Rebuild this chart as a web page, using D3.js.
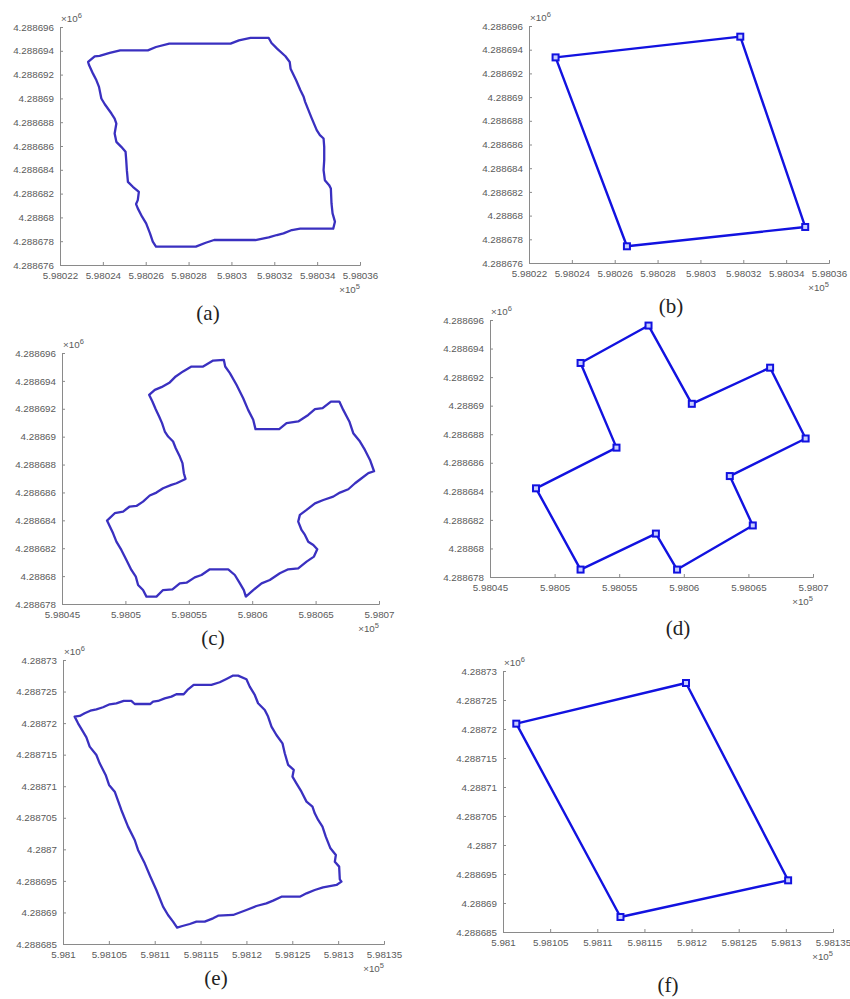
<!DOCTYPE html>
<html>
<head>
<meta charset="utf-8">
<script src="https://cdn.jsdelivr.net/npm/d3@7"></script>
<style>
  body { margin: 0; background: #fff; }
  svg { display: block; }
  .tick-label { font-family: "Liberation Sans", Arial, sans-serif; font-size: 9.8px; fill: #5a5a5a; }
  .caption { font-family: "Liberation Serif", "Times New Roman", serif; font-size: 21px; fill: #222; }
</style>
</head>
<body>
<div id="chart"></div>
<script>
var W = 850, H = 999;

// raster-extracted boundary (a): [easting, northing]
var traceA = [
  [598023.31,4288693.06],[598023.62,4288693.54],[598023.85,4288693.57],[598024.32,4288693.82],
  [598024.81,4288694.04],[598026.10,4288694.04],[598026.48,4288694.32],[598027.10,4288694.60],
  [598029.96,4288694.60],[598030.35,4288694.88],[598030.89,4288695.08],[598031.74,4288695.08],
  [598031.87,4288694.66],[598032.13,4288694.18],[598032.52,4288693.54],[598032.72,4288693.06],
  [598032.76,4288692.50],[598033.02,4288691.52],[598033.22,4288690.69],[598033.37,4288690.13],
  [598033.44,4288689.71],[598033.72,4288688.45],[598033.98,4288687.33],[598034.13,4288686.91],
  [598034.30,4288686.63],[598034.33,4288685.93],[598034.33,4288684.81],[598034.30,4288683.97],
  [598034.36,4288683.13],[598034.56,4288682.71],[598034.64,4288682.43],[598034.67,4288681.17],
  [598034.72,4288680.34],[598034.83,4288679.64],[598034.75,4288679.05],[598033.21,4288679.05],
  [598032.82,4288678.94],[598032.43,4288678.66],[598032.12,4288678.52],[598031.74,4288678.32],
  [598031.12,4288678.10],[598029.19,4288678.10],[598028.80,4288677.87],[598028.34,4288677.54],
  [598026.48,4288677.54],[598026.33,4288677.96],[598026.20,4288678.66],[598026.02,4288679.50],
  [598025.83,4288680.06],[598025.63,4288680.76],[598025.55,4288681.12],[598025.63,4288681.45],
  [598025.68,4288682.15],[598025.40,4288682.57],[598025.17,4288682.99],[598025.12,4288683.97],
  [598025.09,4288684.81],[598025.06,4288685.51],[598024.86,4288685.93],[598024.63,4288686.35],
  [598024.55,4288687.05],[598024.63,4288687.89],[598024.55,4288688.31],[598024.40,4288688.73],
  [598024.09,4288689.51],[598023.93,4288689.99],[598023.82,4288690.97],[598023.70,4288691.52],
  [598023.54,4288692.08],[598023.36,4288692.78]
];

// fitted corners (b)
var cornersB = [
  [598023.24,4288693.35],[598031.86,4288695.10],[598034.89,4288679.04],[598026.57,4288677.41]
];

// raster-extracted boundary (c)
var traceC = [
  [598051.87,4288693.00],[598052.32,4288693.36],[598052.84,4288693.55],[598053.50,4288693.89],
  [598053.97,4288694.32],[598054.55,4288694.68],[598055.21,4288695.03],[598056.13,4288695.03],
  [598056.92,4288695.46],[598057.76,4288695.51],[598057.87,4288695.03],[598058.24,4288694.56],
  [598058.76,4288693.72],[598059.29,4288692.76],[598059.68,4288691.92],[598060.08,4288691.21],
  [598060.26,4288690.54],[598062.13,4288690.54],[598062.71,4288690.97],[598063.63,4288691.09],
  [598064.42,4288691.56],[598064.95,4288691.97],[598065.55,4288692.04],[598066.21,4288692.52],
  [598066.87,4288692.52],[598067.18,4288691.92],[598067.66,4288691.09],[598067.97,4288690.25],
  [598068.50,4288689.65],[598068.89,4288689.05],[598069.29,4288688.33],[598069.61,4288687.52],
  [598069.16,4288687.38],[598068.63,4288687.02],[598068.11,4288686.66],[598067.58,4288686.23],
  [598066.92,4288685.99],[598066.39,4288685.70],[598065.61,4288685.46],[598064.95,4288685.22],
  [598064.29,4288684.75],[598063.76,4288684.39],[598063.63,4288683.91],[598063.89,4288683.31],
  [598064.16,4288682.95],[598064.42,4288682.47],[598064.82,4288682.23],[598065.13,4288681.92],
  [598064.87,4288681.40],[598064.29,4288681.04],[598063.63,4288680.56],[598062.84,4288680.49],
  [598062.18,4288680.20],[598061.39,4288679.72],[598060.74,4288679.48],[598060.08,4288679.00],
  [598059.50,4288678.53],[598059.34,4288679.00],[598059.03,4288679.48],[598058.63,4288680.08],
  [598058.11,4288680.49],[598056.66,4288680.49],[598056.00,4288680.08],[598055.47,4288679.91],
  [598054.82,4288679.53],[598054.29,4288679.48],[598053.71,4288679.05],[598052.97,4288679.00],
  [598052.45,4288678.53],[598051.66,4288678.53],[598051.39,4288679.00],[598051.00,4288679.36],
  [598050.82,4288679.96],[598050.47,4288680.44],[598050.08,4288681.16],[598049.68,4288681.88],
  [598049.29,4288682.47],[598049.03,4288683.07],[598048.55,4288683.98],[598049.16,4288684.51],
  [598049.82,4288684.63],[598050.34,4288684.99],[598050.87,4288685.03],[598051.39,4288685.34],
  [598051.92,4288685.78],[598052.45,4288685.99],[598052.97,4288686.30],[598053.63,4288686.54],
  [598054.03,4288686.66],[598054.74,4288686.97],[598054.61,4288687.38],[598054.50,4288688.10],
  [598054.29,4288688.57],[598053.97,4288689.17],[598053.76,4288689.65],[598053.37,4288690.01],
  [598053.11,4288690.37],[598052.89,4288690.97],[598052.66,4288691.44],[598052.39,4288691.97],
  [598052.13,4288692.52]
];

// fitted corners (d)
var cornersD = [
  [598052.01,4288692.99],[598057.27,4288695.61],[598060.62,4288690.13],[598066.68,4288692.66],
  [598069.43,4288687.70],[598063.56,4288685.07],[598065.34,4288681.61],[598059.48,4288678.52],
  [598057.84,4288681.04],[598052.01,4288678.52],[598048.56,4288684.21],[598054.79,4288687.06]
];

// raster-extracted boundary (e)
var traceE = [
  [598101.27,4288721.03],[598101.82,4288721.13],[598102.36,4288721.55],[598102.98,4288721.97],
  [598103.64,4288722.19],[598104.36,4288722.51],[598105.09,4288722.98],[598105.82,4288723.14],
  [598106.62,4288723.51],[598107.45,4288723.51],[598107.82,4288723.03],[598109.53,4288723.03],
  [598109.82,4288723.40],[598110.36,4288723.51],[598111.09,4288723.93],[598111.82,4288724.20],
  [598112.36,4288724.57],[598113.16,4288724.57],[598113.64,4288725.36],[598114.25,4288726.05],
  [598116.18,4288726.05],[598117.09,4288726.47],[598117.82,4288727.00],[598118.55,4288727.53],
  [598119.09,4288727.53],[598120.00,4288726.94],[598120.36,4288725.78],[598120.91,4288724.46],
  [598121.27,4288723.14],[598122.00,4288722.08],[598122.36,4288721.03],[598122.73,4288719.44],
  [598123.27,4288718.12],[598123.93,4288716.80],[598124.18,4288715.22],[598124.55,4288713.37],
  [598125.16,4288712.58],[598125.02,4288711.52],[598125.45,4288710.46],[598126.00,4288709.14],
  [598126.55,4288707.56],[598127.20,4288706.76],[598127.45,4288705.71],[598127.82,4288704.65],
  [598128.29,4288703.60],[598128.65,4288702.01],[598129.16,4288700.16],[598129.75,4288699.10],
  [598129.64,4288698.05],[598130.11,4288697.26],[598130.18,4288695.25],[598130.36,4288694.88],
  [598129.82,4288694.35],[598128.36,4288693.98],[598127.45,4288693.56],[598126.55,4288693.03],
  [598125.82,4288692.50],[598123.82,4288692.50],[598122.91,4288691.87],[598122.18,4288691.44],
  [598121.09,4288691.02],[598120.00,4288690.39],[598118.55,4288689.60],[598116.91,4288689.49],
  [598116.36,4288689.07],[598115.45,4288688.54],[598114.55,4288688.54],[598113.82,4288688.17],
  [598113.02,4288687.85],[598112.44,4288687.59],[598112.00,4288688.54],[598111.45,4288689.60],
  [598110.91,4288690.92],[598110.18,4288693.56],[598109.53,4288695.67],[598108.91,4288697.78],
  [598108.18,4288699.90],[598107.82,4288701.48],[598107.09,4288703.60],[598106.36,4288706.24],
  [598105.64,4288709.14],[598105.02,4288710.20],[598104.65,4288711.78],[598104.00,4288713.63],
  [598103.64,4288714.95],[598102.91,4288716.27],[598102.55,4288717.75],[598102.18,4288718.65],
  [598101.64,4288719.97]
];

// fitted corners (f)
var cornersF = [
  [598101.41,4288720.92],[598119.41,4288727.93],[598130.24,4288693.91],[598112.46,4288687.59]
];

// axis ticks
var xTicksAB = [598022, 598024, 598026, 598028, 598030, 598032, 598034, 598036];
var yTicksAB = [4288676, 4288678, 4288680, 4288682, 4288684, 4288686, 4288688, 4288690, 4288692, 4288694, 4288696];
var xTicksCD = [598045, 598050, 598055, 598060, 598065, 598070];
var yTicksCD = [4288678, 4288680, 4288682, 4288684, 4288686, 4288688, 4288690, 4288692, 4288694, 4288696];
var xTicksEF = [598100, 598105, 598110, 598115, 598120, 598125, 598130, 598135];
var yTicksEF = [4288685, 4288690, 4288695, 4288700, 4288705, 4288710, 4288715, 4288720, 4288725, 4288730];

var captions = ["(a)", "(b)", "(c)", "(d)", "(e)", "(f)"];

var rawColor = "#3a30c0", fitColor = "#1212e0";

var panels = [
  {data: traceA, xt: xTicksAB, yt: yTicksAB, x0: 60, x1: 360, y0: 27, y1: 265, fit: false, cap: [208, 315]},
  {data: cornersB, xt: xTicksAB, yt: yTicksAB, x0: 529, x1: 829, y0: 26, y1: 263, fit: true, cap: [671, 308]},
  {data: traceC, xt: xTicksCD, yt: yTicksCD, x0: 62, x1: 379, y0: 353, y1: 604, fit: false, cap: [213, 640]},
  {data: cornersD, xt: xTicksCD, yt: yTicksCD, x0: 490, x1: 813, y0: 320, y1: 577, fit: true, cap: [678, 630]},
  {data: traceE, xt: xTicksEF, yt: yTicksEF, x0: 63, x1: 384, y0: 660, y1: 944, fit: false, cap: [216, 980]},
  {data: cornersF, xt: xTicksEF, yt: yTicksEF, x0: 503, x1: 833, y0: 671, y1: 932, fit: true, cap: [668, 987]}
];

var svg = d3.select("#chart").append("svg")
    .attr("width", W)
    .attr("height", H);

function fmtX(d) { return String(+(d / 1e5).toFixed(6)); }
function fmtY(d) { return String(+(d / 1e6).toFixed(7)); }

panels.forEach(function(p, i) {
  var x = d3.scaleLinear()
      .domain([p.xt[0], p.xt[p.xt.length - 1]])
      .range([p.x0, p.x1]);
  var y = d3.scaleLinear()
      .domain([p.yt[0], p.yt[p.yt.length - 1]])
      .range([p.y1, p.y0]);

  var g = svg.append("g").attr("class", "panel");

  // bottom axis, ticks pointing inward like matlab
  var xAxis = d3.axisBottom(x).tickValues(p.xt).tickSize(-3).tickPadding(7).tickFormat(fmtX);
  var gx = g.append("g")
      .attr("transform", "translate(0," + p.y1 + ")")
      .call(xAxis);
  var yAxis = d3.axisLeft(y).tickValues(p.yt).tickSize(-3).tickPadding(6).tickFormat(fmtY);
  var gy = g.append("g")
      .attr("transform", "translate(" + p.x0 + ",0)")
      .call(yAxis);

  [gx, gy].forEach(function(a) {
    a.select(".domain").attr("stroke", "#8a8a8a");
    a.selectAll(".tick line").attr("stroke", "#8a8a8a");
    a.selectAll(".tick text").attr("class", "tick-label").attr("fill", null);
  });

  // exponent labels
  var ey = g.append("text")
      .attr("class", "tick-label")
      .attr("x", p.x0 + 1)
      .attr("y", p.y0 - 5);
  ey.append("tspan").text("\u00d710");
  ey.append("tspan").attr("dy", -4).attr("font-size", "7.5px").text("6");

  var ex = g.append("text")
      .attr("class", "tick-label")
      .attr("text-anchor", "end")
      .attr("x", p.x1)
      .attr("y", p.y1 + 28);
  ex.append("tspan").text("\u00d710");
  ex.append("tspan").attr("dy", -4).attr("font-size", "7.5px").text("5");

  var line = d3.line()
      .x(function(d) { return x(d[0]); })
      .y(function(d) { return y(d[1]); });

  g.append("path")
      .attr("d", line(p.data) + "Z")
      .attr("fill", "none")
      .attr("stroke", p.fit ? fitColor : rawColor)
      .attr("stroke-width", p.fit ? 2.4 : 2.3)
      .attr("stroke-linejoin", "round");

  if (p.fit) {
    g.selectAll("rect.marker")
      .data(p.data)
      .enter().append("rect")
        .attr("class", "marker")
        .attr("x", function(d) { return x(d[0]) - 3; })
        .attr("y", function(d) { return y(d[1]) - 3; })
        .attr("width", 6)
        .attr("height", 6)
        .attr("fill", "#c8ceff")
        .attr("stroke", fitColor)
        .attr("stroke-width", 2);
  }

  g.append("text")
      .attr("class", "caption")
      .attr("x", p.cap[0])
      .attr("y", p.cap[1])
      .attr("text-anchor", "middle")
      .attr("dominant-baseline", "middle")
      .text(captions[i]);
});
</script>
</body>
</html>
